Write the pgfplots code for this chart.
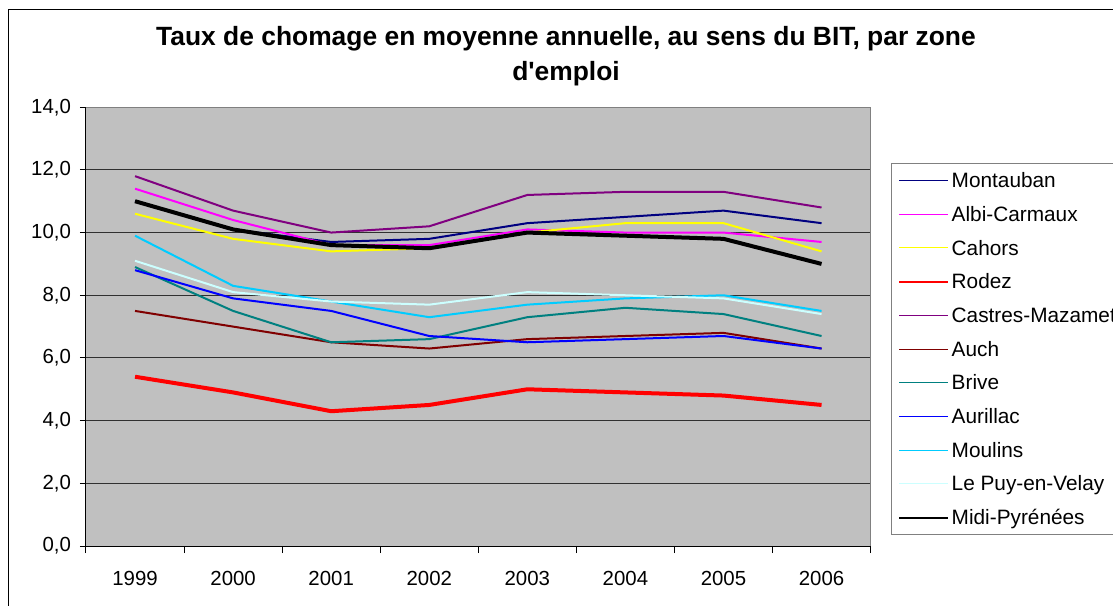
\documentclass[border=0pt]{standalone}
\usepackage{pgfplots}
\pgfplotsset{compat=1.18}
\usepackage{fontspec}
\setmainfont{Liberation Sans}
\definecolor{bgc}{HTML}{C0C0C0}
\definecolor{cMont}{HTML}{000080}
\definecolor{cAlbi}{HTML}{FF00FF}
\definecolor{cCah}{HTML}{FFFF00}
\definecolor{cRod}{HTML}{FF0000}
\definecolor{cCas}{HTML}{800080}
\definecolor{cAuch}{HTML}{800000}
\definecolor{cBriv}{HTML}{008080}
\definecolor{cAur}{HTML}{0000FF}
\definecolor{cMou}{HTML}{00CCFF}
\definecolor{cPuy}{HTML}{CCFFFF}
\definecolor{gridc}{HTML}{303030}
\begin{document}
\begin{tikzpicture}
\useasboundingbox (0,0) rectangle (556.5pt,302.5pt);
\clip (0,0) rectangle (556.5pt,302.5pt);
\fill[white] (0,0) rectangle (556.5pt,302.5pt);
\draw[black, line width=0.5pt] (4pt,-10pt) -- (4pt,297.5pt) -- (600pt,297.5pt);
\node[align=center, font=\bfseries\fontsize{13.2}{17.5}\selectfont, inner sep=0pt] at (283pt,274.5pt)
  {Taux de chomage en moyenne annuelle, au sens du BIT, par zone\\d\textquotesingle emploi};
\begin{axis}[
  at={(43pt,29.5pt)}, anchor=south west,
  scale only axis, width=392.3pt, height=219.4pt,
  xmin=-0.5, xmax=7.5, ymin=0, ymax=14,
  xtick={0,...,7},
  xticklabels={1999,2000,2001,2002,2003,2004,2005,2006},
  minor xtick={-0.5,0.5,...,7.5},
  ytick={0,2,...,14},
  xtick pos=bottom, ytick pos=left,
  major x tick style={draw=none},
  tick align=outside,
  major tick length=3pt,
  minor tick length=3.5pt,
  tick style={black, line width=0.5pt},
  ymajorgrids,
  major grid style={gridc, line width=0.5pt},
  axis background/.style={fill=bgc},
  axis line style={draw=gray, line width=0.5pt},
  /pgf/number format/.cd, fixed, fixed zerofill, precision=1, use comma, assume math mode=true,
  /pgfplots/.cd,
  ticklabel style={font=\fontsize{10.2}{12}\selectfont},
  yticklabel style={xshift=-1.0pt},
  xticklabel style={yshift=-6pt},
  legend cell align=left,
  legend style={at={(1.0255,0.8724)}, anchor=north west,
    draw=gray, line width=0.5pt, inner xsep=3.6pt, inner ysep=0pt,
    row sep=0pt,
    font=\fontsize{10.4}{12}\selectfont,
    nodes={inner xsep=1.2pt, inner ysep=0pt, text height=12pt, text depth=4.85pt}},
  legend image code/.code={\draw[#1] (0pt,0pt) -- (24.5pt,0pt);},
  every axis plot/.append style={line width=1pt, mark=none},
  after end axis/.code={
    \draw[black, line width=0.5pt] (rel axis cs:0,1) -- (rel axis cs:0,0) -- (rel axis cs:1,0);
  },
]
\addplot[cMont, legend image post style={line width=0.5pt}] coordinates {(0,11.0) (1,10.1) (2,9.7) (3,9.8) (4,10.3) (5,10.5) (6,10.7) (7,10.3)};
\addlegendentry{Montauban}
\addplot[cAlbi, legend image post style={line width=0.5pt}] coordinates {(0,11.4) (1,10.4) (2,9.6) (3,9.6) (4,10.1) (5,10.0) (6,10.0) (7,9.7)};
\addlegendentry{Albi-Carmaux}
\addplot[cCah, legend image post style={line width=0.5pt}] coordinates {(0,10.6) (1,9.8) (2,9.4) (3,9.5) (4,10.0) (5,10.3) (6,10.3) (7,9.4)};
\addlegendentry{Cahors}
\addplot[cRod, line width=2pt, legend image post style={line width=1pt}] coordinates {(0,5.4) (1,4.9) (2,4.3) (3,4.5) (4,5.0) (5,4.9) (6,4.8) (7,4.5)};
\addlegendentry{Rodez}
\addplot[cCas, legend image post style={line width=0.5pt}] coordinates {(0,11.8) (1,10.7) (2,10.0) (3,10.2) (4,11.2) (5,11.3) (6,11.3) (7,10.8)};
\addlegendentry{Castres-Mazamet\hspace{12pt}}
\addplot[cAuch, legend image post style={line width=0.5pt}] coordinates {(0,7.5) (1,7.0) (2,6.5) (3,6.3) (4,6.6) (5,6.7) (6,6.8) (7,6.3)};
\addlegendentry{Auch}
\addplot[cBriv, legend image post style={line width=0.5pt}] coordinates {(0,8.9) (1,7.5) (2,6.5) (3,6.6) (4,7.3) (5,7.6) (6,7.4) (7,6.7)};
\addlegendentry{Brive}
\addplot[cAur, legend image post style={line width=0.5pt}] coordinates {(0,8.8) (1,7.9) (2,7.5) (3,6.7) (4,6.5) (5,6.6) (6,6.7) (7,6.3)};
\addlegendentry{Aurillac}
\addplot[cMou, legend image post style={line width=0.5pt}] coordinates {(0,9.9) (1,8.3) (2,7.8) (3,7.3) (4,7.7) (5,7.9) (6,8.0) (7,7.5)};
\addlegendentry{Moulins}
\addplot[cPuy, legend image post style={line width=0.5pt}] coordinates {(0,9.1) (1,8.1) (2,7.8) (3,7.7) (4,8.1) (5,8.0) (6,7.9) (7,7.4)};
\addlegendentry{Le Puy-en-Velay}
\addplot[black, line width=2pt, legend image post style={line width=1pt}] coordinates {(0,11.0) (1,10.1) (2,9.6) (3,9.5) (4,10.0) (5,9.9) (6,9.8) (7,9.0)};
\addlegendentry{Midi-Pyrénées}
\end{axis}
\end{tikzpicture}
\end{document}
